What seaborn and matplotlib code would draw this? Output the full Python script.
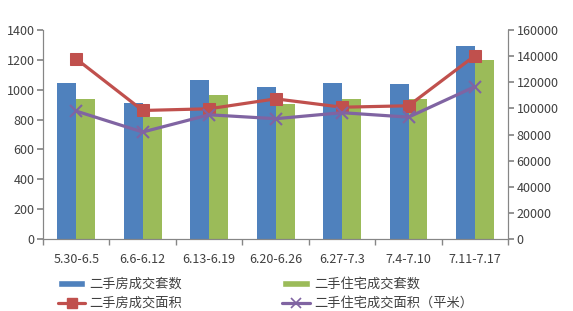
import matplotlib
matplotlib.use("Agg")
import matplotlib.pyplot as plt
import seaborn as sns
import pandas as pd
import numpy as np

categories = ["5.30-6.5", "6.6-6.12", "6.13-6.19", "6.20-6.26", "6.27-7.3", "7.4-7.10", "7.11-7.17"]
house_sets = [1043, 909, 1065, 1020, 1043, 1038, 1293]
resid_sets = [938, 819, 965, 904, 940, 940, 1201]
house_area = [137900, 98400, 99700, 107300, 100900, 102000, 140400]
resid_area = [97900, 81900, 95100, 92100, 96700, 93300, 116700]

names = ["二手房成交套数", "二手住宅成交套数", "二手房成交面积", "二手住宅成交面积（平米）"]
c_blue, c_green, c_red, c_purple = "#4F81BD", "#9BBB59", "#C0504D", "#8064A2"
txt = "#404040"

sns.set_theme(style="white")
plt.rcParams["font.family"] = ["Noto Sans CJK SC", "DejaVu Sans"]

fig = plt.figure(figsize=(5.73, 3.11), dpi=100)
ax = fig.add_axes([0.075, 0.2315, 0.812, 0.672])

df = pd.DataFrame({
    "cat": categories * 2,
    "val": house_sets + resid_sets,
    "series": [names[0]] * 7 + [names[1]] * 7,
})
sns.barplot(data=df, x="cat", y="val", hue="series", palette=[c_blue, c_green],
            width=0.57, ax=ax, legend=False, saturation=1, linewidth=0)

ax2 = ax.twinx()
x = np.arange(len(categories))
ldf = pd.DataFrame({"x": list(x) * 2, "y": house_area + resid_area,
                    "series": [names[2]] * 7 + [names[3]] * 7})
sns.lineplot(data=ldf[ldf.series == names[2]], x="x", y="y", color=c_red, lw=2.3,
             marker="s", markersize=8, markeredgecolor=c_red, ax=ax2, legend=False)
sns.lineplot(data=ldf[ldf.series == names[3]], x="x", y="y", color=c_purple, lw=2.3,
             marker="x", markersize=9, markeredgewidth=1.5, markeredgecolor=c_purple, ax=ax2, legend=False)

ax.set_xlim(-0.5, 6.5)
ax.set_ylim(0, 1400)
ax.set_yticks(range(0, 1401, 200))
ax2.set_ylim(0, 160000)
ax2.set_yticks(range(0, 160001, 20000))
ax.set_xlabel("")
ax.set_ylabel("")
ax2.set_xlabel("")
ax2.set_ylabel("")

for a in (ax, ax2):
    for s in ["top"]:
        a.spines[s].set_visible(False)
    for s in ["left", "right", "bottom"]:
        a.spines[s].set_color("#868686")
        a.spines[s].set_linewidth(0.8)
ax.tick_params(axis="y", left=True, length=4, color="#868686", labelsize=9, labelcolor=txt, pad=2)
ax2.tick_params(axis="y", right=True, length=4, color="#868686", labelsize=9, labelcolor=txt, pad=2)
ax.tick_params(axis="x", which="major", length=0, labelsize=9, labelcolor=txt, pad=10)
ax.set_xticks(np.arange(-0.5, 7, 1), minor=True)
ax.tick_params(axis="x", which="minor", bottom=True, length=4, color="#868686")
ax2.tick_params(axis="x", bottom=False, labelbottom=False)

from matplotlib.patches import Patch
from matplotlib.lines import Line2D
handles = [
    Patch(facecolor=c_blue, label=names[0]),
    Line2D([], [], color=c_red, lw=2.3, marker="s", markersize=7, label=names[2]),
    Patch(facecolor=c_green, label=names[1]),
    Line2D([], [], color=c_purple, lw=2.3, marker="x", markersize=7, markeredgewidth=1.2, label=names[3]),
]
fig.legend(handles=handles, ncol=2, loc="lower left", bbox_to_anchor=(0.08, -0.035),
           frameon=False, fontsize=9.5, labelcolor=txt, handlelength=2.1, handleheight=0.5,
           columnspacing=7.6, handletextpad=0.3, labelspacing=0.45)

fig.savefig("out.png", dpi=100)
